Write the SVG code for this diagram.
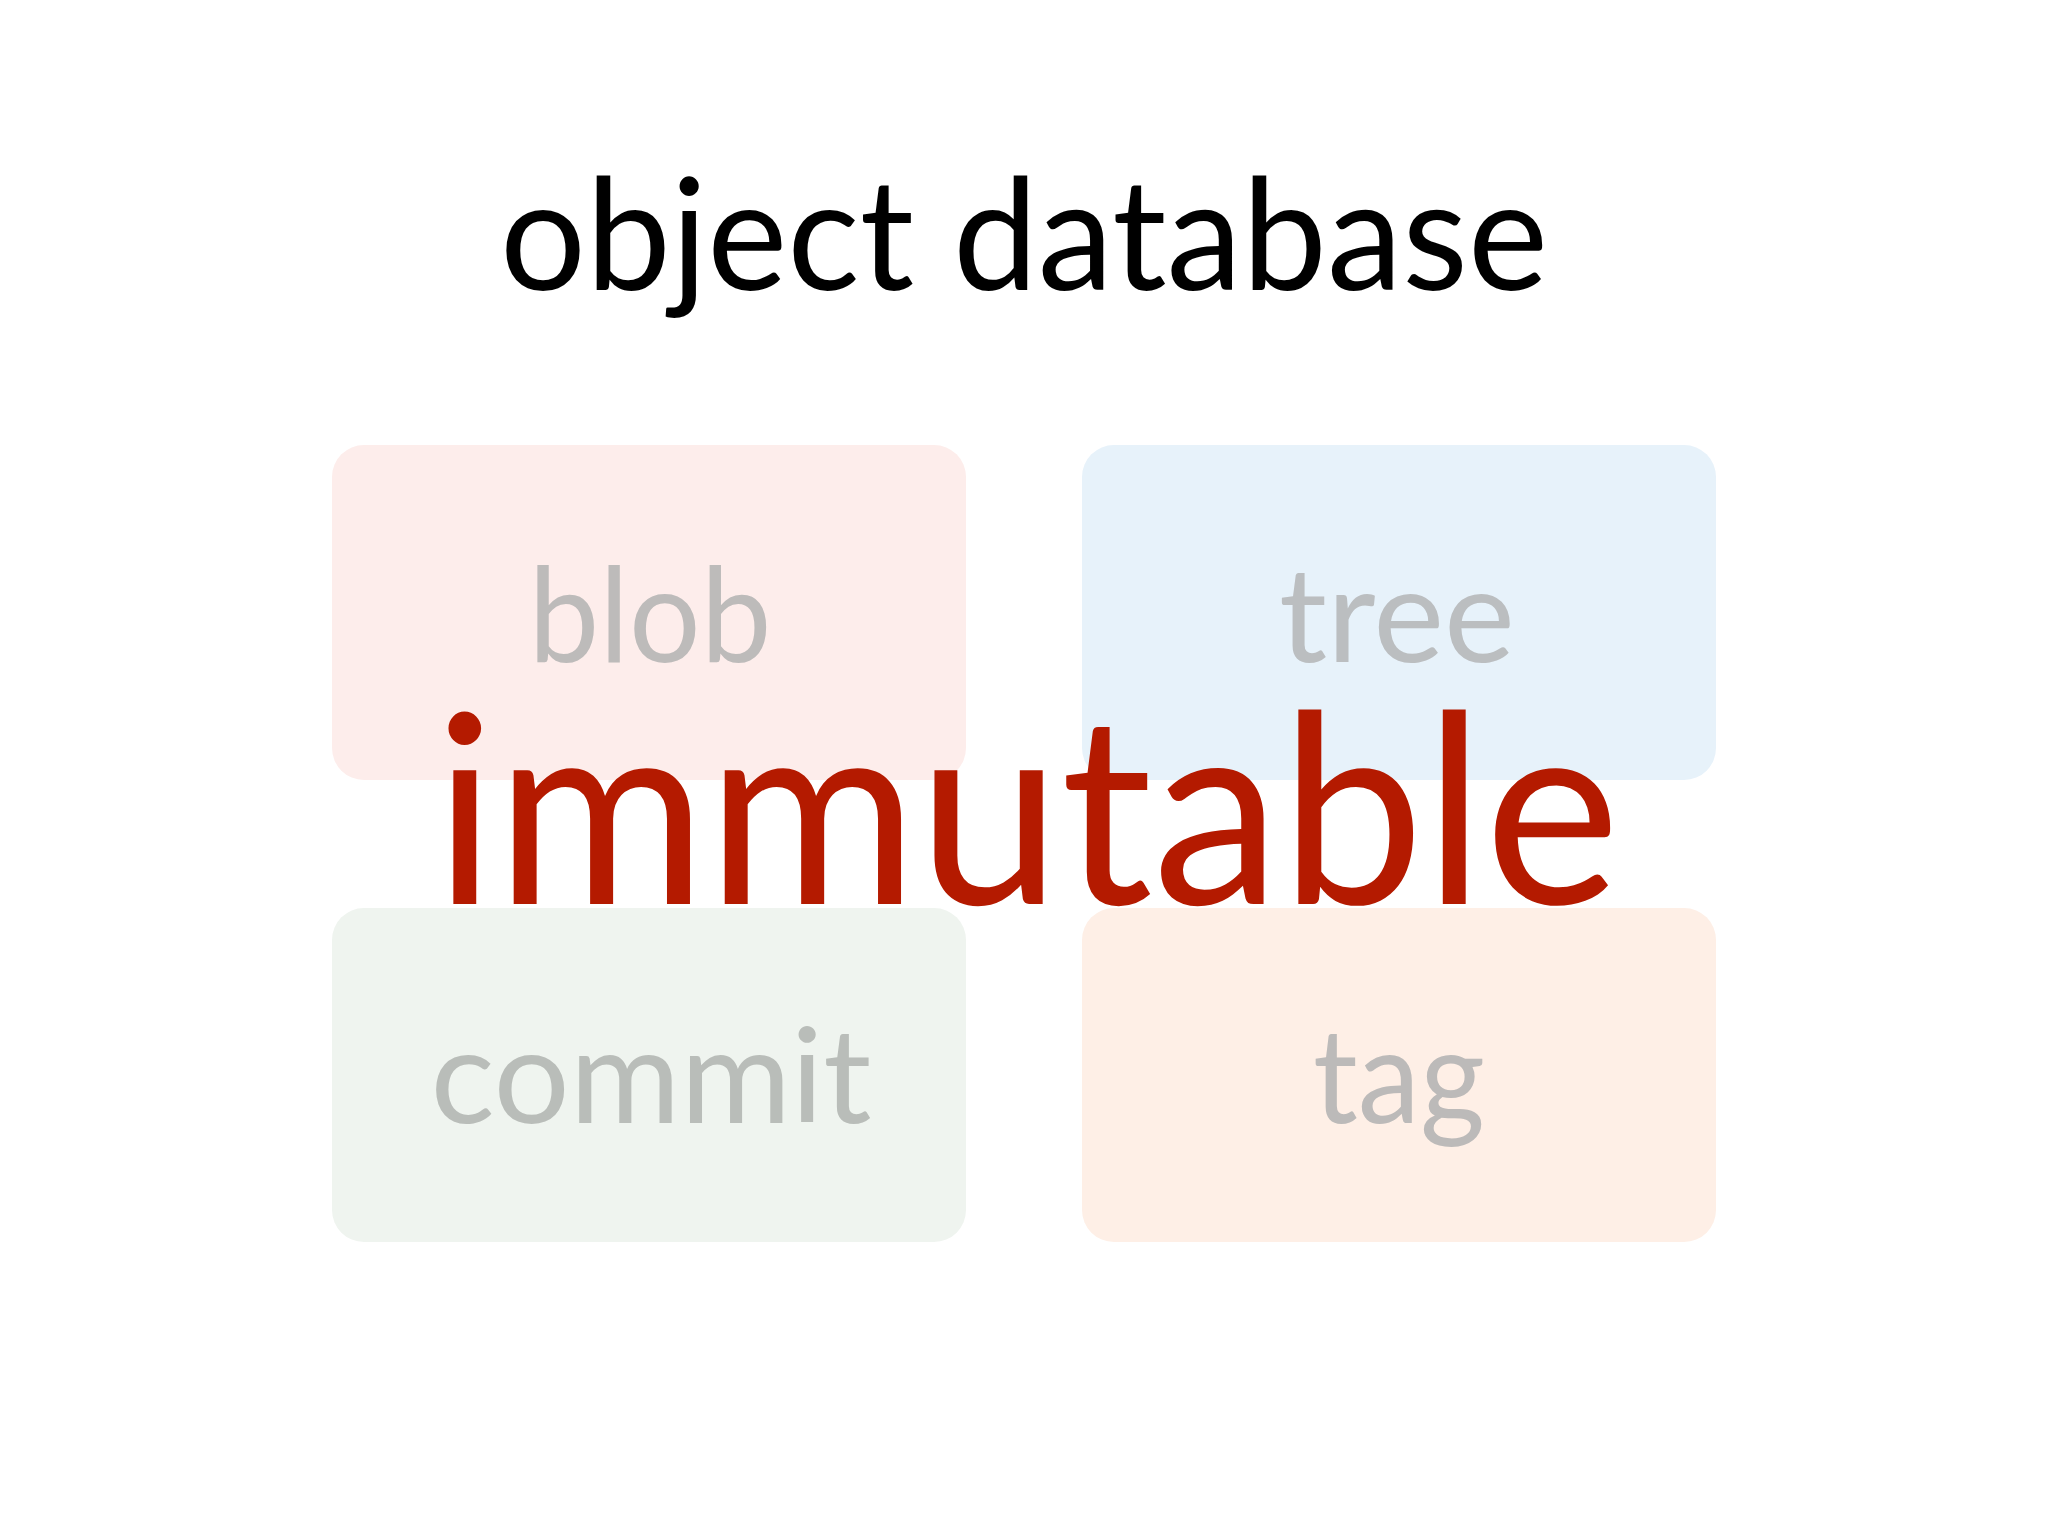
<svg xmlns="http://www.w3.org/2000/svg" width="2048" height="1536" viewBox="0 0 2048 1536">
<style>
.box{stroke:none}
.lbl{font-family:Lato,"Open Sans","Liberation Sans",sans-serif;font-size:132px;text-anchor:middle}
.title{font-family:Lato,"Open Sans","Liberation Sans",sans-serif;font-size:156px;fill:#000;text-anchor:middle}
.big{font-family:Lato,"Open Sans","Liberation Sans",sans-serif;font-size:264px;fill:#B41A00;text-anchor:middle}
</style>
<rect width="2048" height="1536" fill="#FFFFFF"/>
<text class="title" x="1024" y="290" textLength="1048" lengthAdjust="spacingAndGlyphs">object database</text>
<g id="blob">
<rect class="box" x="332" y="445" width="634" height="335" rx="32" fill="#FDEDEB"/>
<text class="lbl" x="650" y="662" fill="#BDBBBA" textLength="243" lengthAdjust="spacingAndGlyphs">blob</text>
</g>
<g id="tree">
<rect class="box" x="1082" y="445" width="634" height="335" rx="32" fill="#E7F2FA"/>
<text class="lbl" x="1397" y="662" fill="#BBBEC0" textLength="236" lengthAdjust="spacingAndGlyphs">tree</text>
</g>
<g id="commit">
<rect class="box" x="332" y="908" width="634" height="334" rx="32" fill="#EFF4EF"/>
<text class="lbl" x="651" y="1123" fill="#B9BDB9" textLength="441" lengthAdjust="spacingAndGlyphs">commit</text>
</g>
<g id="tag">
<rect class="box" x="1082" y="908" width="634" height="334" rx="32" fill="#FEEFE6"/>
<text class="lbl" x="1399" y="1123" fill="#BCBAB9" textLength="172" lengthAdjust="spacingAndGlyphs">tag</text>
</g>
<g id="connectors"></g>
<g id="immutable">
<text class="big" x="1027" y="904" textLength="1186" lengthAdjust="spacingAndGlyphs">immutable</text>
</g>
</svg>
